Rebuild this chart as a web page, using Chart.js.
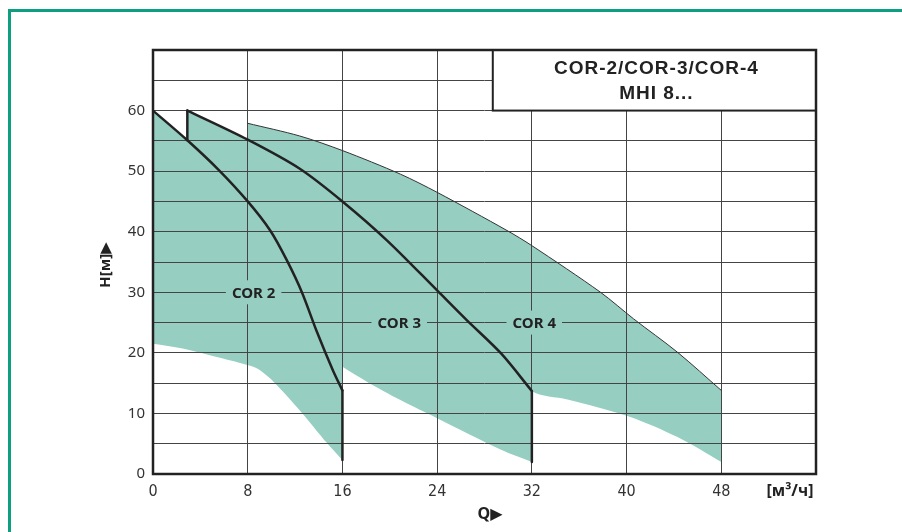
<!DOCTYPE html>
<html>
<head>
<meta charset="utf-8">
<script src="https://cdn.jsdelivr.net/npm/chart.js@4.4.0/dist/chart.umd.min.js"></script>
<style>
  html, body { margin: 0; padding: 0; background: #fff; }
  #pump { display: block; }
</style>
</head>
<body>
<canvas id="pump" width="902" height="532"></canvas>
<script>
// Q in m3/h, H in m
const xTicks = [0, 8, 16, 24, 32, 40, 48];
const yTicks = [0, 10, 20, 30, 40, 50, 60];
const curveNames = ['COR 2', 'COR 3', 'COR 4'];
const titleLines = ['COR-2/COR-3/COR-4', 'MHI 8...'];

// COR 2: black curve (top of the field) and lower edge of the field
const cor2Q = [0, 2.9, 5.5, 8, 9.9, 11.3, 12.6, 13.8, 15.2, 16];
const cor2H = [60, 55.1, 50.3, 45, 40.2, 35.3, 29.9, 23.7, 17.1, 13.8];
const cor2LowQ = [0, 2.5, 4.8, 7.6, 8.8, 10.2, 12.4, 14.7, 16];
const cor2LowH = [21.5, 20.7, 19.6, 18.2, 17.4, 15.2, 10.5, 5.1, 2.3];

// COR 3
const cor3Q = [2.9, 8, 12.4, 16, 19.8, 24, 26.5, 29.4, 32];
const cor3H = [60, 55.2, 50.4, 45, 38.5, 30.3, 25.4, 19.9, 13.7];
const cor3LowQ = [16, 18.1, 20.9, 24, 29.4, 32];
const cor3LowH = [17.7, 15.2, 12.2, 9.2, 4.0, 2.0];

// COR 4 (thin outline)
const cor4Q = [8, 12.4, 16, 20.9, 24, 29.9, 32, 37.8, 40.6, 44.3, 48];
const cor4H = [57.9, 55.8, 53.4, 49.5, 46.5, 40.2, 37.7, 30, 25.6, 20.1, 13.8];
const cor4LowQ = [32, 35, 40.2, 44.3, 48];
const cor4LowH = [13.5, 12.3, 9.5, 6.1, 2.0];

const GREEN = '#96cfc1';
const DARK = '#222';

const pts = (q, h) => q.map((x, i) => ({ x: x, y: h[i] }));
const last = a => a[a.length - 1];

const cor2 = pts(cor2Q, cor2H);
const cor3 = pts(cor3Q, cor3H);
const cor4 = pts(cor4Q, cor4H);

// lower edges of each field (fills run from the curve down to these)
const edgeA = pts(cor2LowQ, cor2LowH);
const edgeB = cor2.filter(p => p.x >= cor3Q[0])
  .concat([{ x: cor3LowQ[0], y: null }])
  .concat(pts(cor3LowQ, cor3LowH));
const edgeC = cor3.filter(p => p.x >= cor4Q[0])
  .concat(pts(cor4LowQ, cor4LowH).slice(1));

function curve(data, width, fill, color) {
  return { data: data, fill: fill, backgroundColor: GREEN, borderColor: color || DARK,
           borderWidth: width, pointRadius: 0, tension: 0.3, spanGaps: false,
           borderCapStyle: 'round', borderJoinStyle: 'round' };
}
function edge(data) {
  return curve(data, 0, false, 'transparent');
}
function drop(a, b) {
  return Object.assign(curve([a, b], 2.5, false), { tension: 0 });
}

const decor = {
  id: 'decor',
  afterDatasetsDraw(chart) {
    const { ctx, scales: { x, y }, chartArea: ca } = chart;
    ctx.save();
    // curve labels, gridlines broken behind them
    const spots = [[8.5, 30], [20.8, 25], [32.2, 25]];
    ctx.font = 'bold 15px "Noto Sans", sans-serif';
    ctx.textAlign = 'center';
    ctx.textBaseline = 'middle';
    curveNames.forEach((name, i) => {
      const px = x.getPixelForValue(spots[i][0]);
      const py = y.getPixelForValue(spots[i][1]);
      const w = ctx.measureText(name).width;
      ctx.fillStyle = GREEN;
      ctx.fillRect(px - w / 2 - 6, py - 12, w + 12, 24);
      ctx.fillStyle = DARK;
      ctx.fillText(name, px, py + 1);
    });
    // title box in the top right corner
    const bx = x.getPixelForValue(28.7);
    const by = y.getPixelForValue(60);
    ctx.fillStyle = '#fff';
    ctx.fillRect(bx, ca.top, ca.right - bx, by - ca.top);
    ctx.strokeStyle = DARK;
    ctx.lineWidth = 2;
    ctx.strokeRect(bx, ca.top, ca.right - bx, by - ca.top);
    ctx.fillStyle = DARK;
    ctx.font = 'bold 19px "Liberation Sans", Arial, sans-serif';
    ctx.letterSpacing = '1px';
    const cx = (bx + ca.right) / 2 + 2;
    ctx.fillText(titleLines[0], cx, ca.top + 19);
    ctx.fillText(titleLines[1], cx, ca.top + 44);
    ctx.restore();
  },
  afterDraw(chart) {
    const { ctx, chartArea: ca } = chart;
    ctx.save();
    ctx.strokeStyle = DARK;
    ctx.lineWidth = 2.5;
    ctx.strokeRect(ca.left, ca.top, ca.right - ca.left, ca.bottom - ca.top);
    ctx.fillStyle = DARK;
    ctx.textAlign = 'center';
    ctx.textBaseline = 'middle';
    ctx.font = 'bold 16px "Noto Sans", "DejaVu Sans", sans-serif';
    ctx.fillText('Q\u25B6', 490, 514);
    ctx.fillText('[м³/ч]', 790, 491);
    ctx.translate(106, 265);
    ctx.rotate(-Math.PI / 2);
    ctx.font = 'bold 15px "Noto Sans", "DejaVu Sans", sans-serif';
    ctx.fillText('H[м]\u25B6', 0, 0);
    ctx.restore();
    // green frame of the datasheet page
    ctx.fillStyle = '#0e9e80';
    ctx.fillRect(8, 9, 894, 3);
    ctx.fillRect(8, 9, 3, 523);
  }
};

new Chart(document.getElementById('pump'), {
  type: 'line',
  data: {
    datasets: [
      curve(cor2, 2.5, '+1'),
      edge(edgeA),
      curve(cor3, 2.5, '+1'),
      edge(edgeB),
      curve(cor4, 1, '+1', '#333'),
      edge(edgeC),
      drop(last(cor2), last(edgeA)),
      drop({ x: cor3Q[0], y: cor2H[1] }, cor3[0]),
      drop(last(cor3), last(pts(cor3LowQ, cor3LowH)))
    ]
  },
  options: {
    responsive: false,
    animation: false,
    devicePixelRatio: 1,
    layout: { padding: { top: 50, right: 86, left: 0, bottom: 0 } },
    plugins: {
      legend: { display: false },
      tooltip: { enabled: false },
      filler: { drawTime: 'beforeDraw' }
    },
    scales: {
      x: {
        type: 'linear', min: 0, max: 56,
        afterFit: s => { s.height = 58; },
        border: { display: false },
        grid: { color: '#444', lineWidth: 1, drawTicks: false },
        ticks: {
          stepSize: 8, padding: 8, maxRotation: 0, autoSkip: false, color: '#333',
          font: { family: '"Liberation Sans Narrow", "DejaVu Sans Condensed", sans-serif', size: 16 },
          callback: v => xTicks.includes(v) ? String(v) : ''
        }
      },
      y: {
        type: 'linear', min: 0, max: 70,
        afterFit: s => { s.width = 153; },
        border: { display: false },
        grid: { color: '#444', lineWidth: 1, drawTicks: false },
        ticks: {
          stepSize: 5, padding: 8, autoSkip: false, color: '#333',
          font: { family: '"Noto Sans", sans-serif', size: 15 },
          callback: v => yTicks.includes(v) ? String(v) : ''
        }
      }
    }
  },
  plugins: [decor]
});
</script>
</body>
</html>
